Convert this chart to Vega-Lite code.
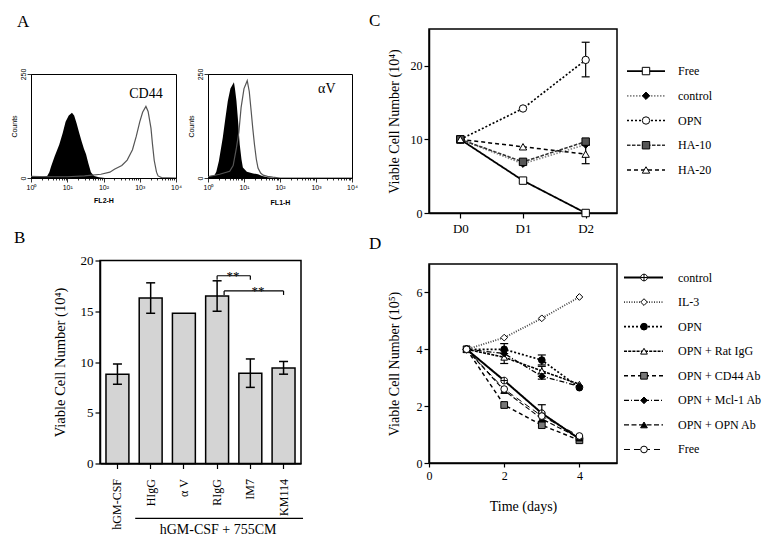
{
  "$schema": "https://vega.github.io/schema/vega-lite/v6.json",
  "autosize": {"type": "pad"},
  "padding": {"left": 9, "top": 11, "right": 0, "bottom": 0},
  "background": "white",
  "config": {
    "font": "Liberation Serif",
    "view": {"stroke": null},
    "axis": {"grid": false, "domainColor": "black", "tickColor": "black", "labelColor": "black", "titleColor": "black", "labelFont": "Liberation Serif", "titleFont": "Liberation Serif", "titleFontWeight": "normal", "labelFontSize": 12, "titleFontSize": 14, "tickSize": 5, "domainWidth": 1.5, "tickWidth": 1.2},
    "title": {"font": "Liberation Serif", "fontSize": 17, "fontWeight": "normal", "anchor": "start", "frame": "group", "color": "black"},
    "tick": {"opacity": 1},
    "text": {"color": "black"}
  },
  "datasets": {
    "hist": [
      {"panel": "CD44", "kind": "isotype", "fl": 1, "count": 3},
      {"panel": "CD44", "kind": "isotype", "fl": 2, "count": 3},
      {"panel": "CD44", "kind": "isotype", "fl": 2.8, "count": 5},
      {"panel": "CD44", "kind": "isotype", "fl": 3.2, "count": 14},
      {"panel": "CD44", "kind": "isotype", "fl": 3.6, "count": 28},
      {"panel": "CD44", "kind": "isotype", "fl": 4.5, "count": 52},
      {"panel": "CD44", "kind": "isotype", "fl": 6, "count": 80},
      {"panel": "CD44", "kind": "isotype", "fl": 7.5, "count": 108},
      {"panel": "CD44", "kind": "isotype", "fl": 9, "count": 135},
      {"panel": "CD44", "kind": "isotype", "fl": 11, "count": 150},
      {"panel": "CD44", "kind": "isotype", "fl": 13.5, "count": 157},
      {"panel": "CD44", "kind": "isotype", "fl": 15.5, "count": 150},
      {"panel": "CD44", "kind": "isotype", "fl": 18, "count": 132},
      {"panel": "CD44", "kind": "isotype", "fl": 21.4, "count": 108},
      {"panel": "CD44", "kind": "isotype", "fl": 25, "count": 88},
      {"panel": "CD44", "kind": "isotype", "fl": 29, "count": 70},
      {"panel": "CD44", "kind": "isotype", "fl": 33, "count": 57},
      {"panel": "CD44", "kind": "isotype", "fl": 38, "count": 36},
      {"panel": "CD44", "kind": "isotype", "fl": 45, "count": 14},
      {"panel": "CD44", "kind": "isotype", "fl": 55, "count": 5},
      {"panel": "CD44", "kind": "isotype", "fl": 75, "count": 2},
      {"panel": "CD44", "kind": "isotype", "fl": 110, "count": 0},
      {"panel": "CD44", "kind": "stained", "fl": 1, "count": 4},
      {"panel": "CD44", "kind": "stained", "fl": 3, "count": 3},
      {"panel": "CD44", "kind": "stained", "fl": 10, "count": 3},
      {"panel": "CD44", "kind": "stained", "fl": 30, "count": 5},
      {"panel": "CD44", "kind": "stained", "fl": 85, "count": 9},
      {"panel": "CD44", "kind": "stained", "fl": 150, "count": 14},
      {"panel": "CD44", "kind": "stained", "fl": 200, "count": 21},
      {"panel": "CD44", "kind": "stained", "fl": 320, "count": 30},
      {"panel": "CD44", "kind": "stained", "fl": 450, "count": 43},
      {"panel": "CD44", "kind": "stained", "fl": 630, "count": 68},
      {"panel": "CD44", "kind": "stained", "fl": 800, "count": 100},
      {"panel": "CD44", "kind": "stained", "fl": 1000, "count": 135},
      {"panel": "CD44", "kind": "stained", "fl": 1200, "count": 158},
      {"panel": "CD44", "kind": "stained", "fl": 1480, "count": 172},
      {"panel": "CD44", "kind": "stained", "fl": 1700, "count": 160},
      {"panel": "CD44", "kind": "stained", "fl": 2040, "count": 120},
      {"panel": "CD44", "kind": "stained", "fl": 2240, "count": 82},
      {"panel": "CD44", "kind": "stained", "fl": 2510, "count": 42},
      {"panel": "CD44", "kind": "stained", "fl": 2900, "count": 14},
      {"panel": "CD44", "kind": "stained", "fl": 3200, "count": 5},
      {"panel": "CD44", "kind": "stained", "fl": 4000, "count": 1},
      {"panel": "CD44", "kind": "stained", "fl": 10000, "count": 0},
      {"panel": "aV", "kind": "isotype", "fl": 1, "count": 5},
      {"panel": "aV", "kind": "isotype", "fl": 1.5, "count": 6},
      {"panel": "aV", "kind": "isotype", "fl": 1.7, "count": 15},
      {"panel": "aV", "kind": "isotype", "fl": 2, "count": 40},
      {"panel": "aV", "kind": "isotype", "fl": 2.57, "count": 97},
      {"panel": "aV", "kind": "isotype", "fl": 3, "count": 140},
      {"panel": "aV", "kind": "isotype", "fl": 3.55, "count": 185},
      {"panel": "aV", "kind": "isotype", "fl": 4.2, "count": 215},
      {"panel": "aV", "kind": "isotype", "fl": 5.25, "count": 230},
      {"panel": "aV", "kind": "isotype", "fl": 5.6, "count": 215},
      {"panel": "aV", "kind": "isotype", "fl": 6.17, "count": 185},
      {"panel": "aV", "kind": "isotype", "fl": 6.8, "count": 140},
      {"panel": "aV", "kind": "isotype", "fl": 7.6, "count": 81},
      {"panel": "aV", "kind": "isotype", "fl": 8.5, "count": 45},
      {"panel": "aV", "kind": "isotype", "fl": 9.3, "count": 25},
      {"panel": "aV", "kind": "isotype", "fl": 12, "count": 15},
      {"panel": "aV", "kind": "isotype", "fl": 18, "count": 11},
      {"panel": "aV", "kind": "isotype", "fl": 24.5, "count": 9},
      {"panel": "aV", "kind": "isotype", "fl": 32, "count": 5},
      {"panel": "aV", "kind": "isotype", "fl": 45, "count": 2},
      {"panel": "aV", "kind": "isotype", "fl": 70, "count": 0},
      {"panel": "aV", "kind": "stained", "fl": 1, "count": 3},
      {"panel": "aV", "kind": "stained", "fl": 2.1, "count": 9},
      {"panel": "aV", "kind": "stained", "fl": 4, "count": 16},
      {"panel": "aV", "kind": "stained", "fl": 5, "count": 30},
      {"panel": "aV", "kind": "stained", "fl": 6.17, "count": 73},
      {"panel": "aV", "kind": "stained", "fl": 7.2, "count": 110},
      {"panel": "aV", "kind": "stained", "fl": 8.3, "count": 169},
      {"panel": "aV", "kind": "stained", "fl": 10, "count": 215},
      {"panel": "aV", "kind": "stained", "fl": 12.3, "count": 234},
      {"panel": "aV", "kind": "stained", "fl": 14, "count": 208},
      {"panel": "aV", "kind": "stained", "fl": 15.8, "count": 161},
      {"panel": "aV", "kind": "stained", "fl": 17.5, "count": 120},
      {"panel": "aV", "kind": "stained", "fl": 19.5, "count": 81},
      {"panel": "aV", "kind": "stained", "fl": 22, "count": 45},
      {"panel": "aV", "kind": "stained", "fl": 24.5, "count": 24},
      {"panel": "aV", "kind": "stained", "fl": 29, "count": 12},
      {"panel": "aV", "kind": "stained", "fl": 34, "count": 7},
      {"panel": "aV", "kind": "stained", "fl": 45, "count": 4},
      {"panel": "aV", "kind": "stained", "fl": 63, "count": 2},
      {"panel": "aV", "kind": "stained", "fl": 100, "count": 0},
      {"panel": "aV", "kind": "stained", "fl": 10000, "count": 0}
    ],
    "bars": [
      {"group": "hGM-CSF", "mean": 8.8, "lo": 7.8, "hi": 9.8},
      {"group": "HIgG", "mean": 16.3, "lo": 14.8, "hi": 17.8},
      {"group": "α V", "mean": 14.8, "lo": null, "hi": null},
      {"group": "RIgG", "mean": 16.5, "lo": 15.0, "hi": 18.0},
      {"group": "IM7", "mean": 8.9, "lo": 7.5, "hi": 10.3},
      {"group": "KM114", "mean": 9.4, "lo": 8.8, "hi": 10.05}
    ],
    "brackets": [
      {"from": "RIgG", "to": "IM7", "y": 18.5, "label": "**"},
      {"from": "RIgG", "to": "KM114", "y": 17.0, "label": "**"}
    ],
    "cData": [
      {"series": "Free", "day": "D0", "v": 10}, {"series": "Free", "day": "D1", "v": 4.4}, {"series": "Free", "day": "D2", "v": 0},
      {"series": "control", "day": "D0", "v": 10}, {"series": "control", "day": "D1", "v": 6.7}, {"series": "control", "day": "D2", "v": 9.3},
      {"series": "OPN", "day": "D0", "v": 10}, {"series": "OPN", "day": "D1", "v": 14.2}, {"series": "OPN", "day": "D2", "v": 20.8},
      {"series": "HA-10", "day": "D0", "v": 10}, {"series": "HA-10", "day": "D1", "v": 6.95}, {"series": "HA-10", "day": "D2", "v": 9.7},
      {"series": "HA-20", "day": "D0", "v": 10}, {"series": "HA-20", "day": "D1", "v": 9.0}, {"series": "HA-20", "day": "D2", "v": 8.0}
    ],
    "cErr": [
      {"series": "OPN", "day": "D2", "lo": 18.5, "hi": 23.2},
      {"series": "HA-20", "day": "D2", "lo": 6.7, "hi": 9.2}
    ],
    "cLegend": [
      {"series": "Free"}, {"series": "control"}, {"series": "OPN"}, {"series": "HA-10"}, {"series": "HA-20"}
    ],
    "dData": [
      {"series": "control", "day": 1, "v": 4}, {"series": "control", "day": 2, "v": 2.9}, {"series": "control", "day": 3, "v": 1.75}, {"series": "control", "day": 4, "v": 0.85},
      {"series": "IL-3", "day": 1, "v": 4}, {"series": "IL-3", "day": 2, "v": 4.41}, {"series": "IL-3", "day": 3, "v": 5.09}, {"series": "IL-3", "day": 4, "v": 5.84},
      {"series": "OPN", "day": 1, "v": 4}, {"series": "OPN", "day": 2, "v": 4.0}, {"series": "OPN", "day": 3, "v": 3.62}, {"series": "OPN", "day": 4, "v": 2.65},
      {"series": "OPN + Rat IgG", "day": 1, "v": 4}, {"series": "OPN + Rat IgG", "day": 2, "v": 3.72}, {"series": "OPN + Rat IgG", "day": 3, "v": 3.24}, {"series": "OPN + Rat IgG", "day": 4, "v": 2.77},
      {"series": "OPN + CD44 Ab", "day": 1, "v": 4}, {"series": "OPN + CD44 Ab", "day": 2, "v": 2.04}, {"series": "OPN + CD44 Ab", "day": 3, "v": 1.33}, {"series": "OPN + CD44 Ab", "day": 4, "v": 0.8},
      {"series": "OPN + Mcl-1 Ab", "day": 1, "v": 4}, {"series": "OPN + Mcl-1 Ab", "day": 2, "v": 3.85}, {"series": "OPN + Mcl-1 Ab", "day": 3, "v": 3.05}, {"series": "OPN + Mcl-1 Ab", "day": 4, "v": 2.7},
      {"series": "OPN + OPN Ab", "day": 1, "v": 4}, {"series": "OPN + OPN Ab", "day": 2, "v": 2.55}, {"series": "OPN + OPN Ab", "day": 3, "v": 1.55}, {"series": "OPN + OPN Ab", "day": 4, "v": 0.88},
      {"series": "Free", "day": 1, "v": 4}, {"series": "Free", "day": 2, "v": 2.6}, {"series": "Free", "day": 3, "v": 1.65}, {"series": "Free", "day": 4, "v": 0.95}
    ],
    "dErr": [
      {"series": "control", "day": 3, "lo": 1.45, "hi": 2.05},
      {"series": "OPN", "day": 2, "lo": 3.85, "hi": 4.2},
      {"series": "OPN", "day": 3, "lo": 3.45, "hi": 3.8},
      {"series": "OPN + Rat IgG", "day": 2, "lo": 3.5, "hi": 3.95},
      {"series": "OPN + Rat IgG", "day": 3, "lo": 3.05, "hi": 3.4},
      {"series": "OPN + Mcl-1 Ab", "day": 3, "lo": 2.95, "hi": 3.15}
    ],
    "dLegend": [
      {"series": "control"}, {"series": "IL-3"}, {"series": "OPN"}, {"series": "OPN + Rat IgG"}, {"series": "OPN + CD44 Ab"}, {"series": "OPN + Mcl-1 Ab"}, {"series": "OPN + OPN Ab"}, {"series": "Free"}
    ]
  },
  "resolve": {"scale": {"shape": "independent", "fill": "independent", "stroke": "independent", "strokeDash": "independent", "strokeWidth": "independent"}},
  "hconcat": [
    {
      "vconcat": [
        {"width": 1, "height": 44, "view": {"fill": "white"}, "data": {"values": []}, "mark": "point",
         "title": {"text": "A", "dx": -14, "offset": -19, "baseline": "bottom"}},
        {
          "vconcat": [
            {
              "hconcat": [
                {
                  "width": 145, "height": 104,
                  "view": {"stroke": "black", "strokeWidth": 1},
                  "layer": [
                    {
                      "data": {"name": "hist"},
                      "transform": [{"filter": "datum.panel === 'CD44' && datum.kind === 'isotype'"}],
                      "mark": {"type": "area", "color": "black", "clip": true},
                      "encoding": {
                        "x": {"field": "fl", "type": "quantitative", "scale": {"type": "log", "domain": [1, 10000]},
                          "axis": {"values": [1,2,3,4,5,6,7,8,9,10,20,30,40,50,60,70,80,90,100,200,300,400,500,600,700,800,900,1000,2000,3000,4000,5000,6000,7000,8000,9000,10000],
                            "labelExpr": "abs(log(datum.value)/LN10 - round(log(datum.value)/LN10)) < 0.001 ? '10' + ['⁰','¹','²','³','⁴'][round(log(datum.value)/LN10)] : ''",
                            "labelFont": "Liberation Sans", "labelFontSize": 7, "labelOverlap": false, "labelFlush": false, "labelPadding": 1,
                            "tickSize": {"condition": {"test": "abs(log(datum.value)/LN10 - round(log(datum.value)/LN10)) < 0.001", "value": 4}, "value": 2},
                            "tickWidth": 0.8, "domainWidth": 1,
                            "title": "FL2-H", "titleFont": "Liberation Sans", "titleFontSize": 7, "titleFontWeight": "bold", "titlePadding": 6.5}},
                        "y": {"field": "count", "type": "quantitative", "scale": {"domain": [0, 250], "nice": false},
                          "axis": {"values": [0,10,20,30,40,50,60,70,80,90,100,110,120,130,140,150,160,170,180,190,200,210,220,230,240,250],
                            "labelExpr": "datum.value % 50 === 0 ? datum.label : ''",
                            "labelAngle": -90, "labelAlign": "center", "labelBaseline": "bottom",
                            "labelFont": "Liberation Sans", "labelFontSize": 7, "labelOverlap": false, "labelFlush": false, "labelPadding": 1,
                            "tickSize": {"condition": {"test": "datum.value % 50 === 0", "value": 4}, "value": 2},
                            "tickWidth": 0.8, "domainWidth": 1,
                            "title": "Counts", "titleFont": "Liberation Sans", "titleFontSize": 7, "titlePadding": 2}}
                      }
                    },
                    {
                      "data": {"name": "hist"},
                      "transform": [{"filter": "datum.panel === 'CD44' && datum.kind === 'stained'"}],
                      "mark": {"type": "line", "color": "#555", "strokeWidth": 1.2, "clip": true},
                      "encoding": {"x": {"field": "fl", "type": "quantitative"}, "y": {"field": "count", "type": "quantitative"}}
                    },
                    {
                      "data": {"values": [{"label": "CD44"}]},
                      "mark": {"type": "text", "font": "Liberation Serif", "fontSize": 14, "align": "center", "baseline": "middle", "color": "black"},
                      "encoding": {"x": {"datum": 1480}, "y": {"datum": 202}, "text": {"field": "label"}}
                    }
                  ]
                },
                {
                  "width": 144, "height": 104,
                  "view": {"stroke": "black", "strokeWidth": 1},
                  "layer": [
                    {
                      "data": {"name": "hist"},
                      "transform": [{"filter": "datum.panel === 'aV' && datum.kind === 'isotype'"}],
                      "mark": {"type": "area", "color": "black", "clip": true},
                      "encoding": {
                        "x": {"field": "fl", "type": "quantitative", "scale": {"type": "log", "domain": [1, 10000]},
                          "axis": {"values": [1,2,3,4,5,6,7,8,9,10,20,30,40,50,60,70,80,90,100,200,300,400,500,600,700,800,900,1000,2000,3000,4000,5000,6000,7000,8000,9000,10000],
                            "labelExpr": "abs(log(datum.value)/LN10 - round(log(datum.value)/LN10)) < 0.001 ? '10' + ['⁰','¹','²','³','⁴'][round(log(datum.value)/LN10)] : ''",
                            "labelFont": "Liberation Sans", "labelFontSize": 7, "labelOverlap": false, "labelFlush": false, "labelPadding": 1,
                            "tickSize": {"condition": {"test": "abs(log(datum.value)/LN10 - round(log(datum.value)/LN10)) < 0.001", "value": 4}, "value": 2},
                            "tickWidth": 0.8, "domainWidth": 1,
                            "title": "FL1-H", "titleFont": "Liberation Sans", "titleFontSize": 7, "titleFontWeight": "bold", "titlePadding": 8}},
                        "y": {"field": "count", "type": "quantitative", "scale": {"domain": [0, 250], "nice": false},
                          "axis": {"values": [0,10,20,30,40,50,60,70,80,90,100,110,120,130,140,150,160,170,180,190,200,210,220,230,240,250],
                            "labelExpr": "datum.value % 50 === 0 ? datum.label : ''",
                            "labelAngle": -90, "labelAlign": "center", "labelBaseline": "bottom",
                            "labelFont": "Liberation Sans", "labelFontSize": 7, "labelOverlap": false, "labelFlush": false, "labelPadding": 1,
                            "tickSize": {"condition": {"test": "datum.value % 50 === 0", "value": 4}, "value": 2},
                            "tickWidth": 0.8, "domainWidth": 1,
                            "title": "Counts", "titleFont": "Liberation Sans", "titleFontSize": 7, "titlePadding": 2}}
                      }
                    },
                    {
                      "data": {"name": "hist"},
                      "transform": [{"filter": "datum.panel === 'aV' && datum.kind === 'stained'"}],
                      "mark": {"type": "line", "color": "#555", "strokeWidth": 1.2, "clip": true},
                      "encoding": {"x": {"field": "fl", "type": "quantitative"}, "y": {"field": "count", "type": "quantitative"}}
                    },
                    {
                      "data": {"values": [{"label": "αV"}]},
                      "mark": {"type": "text", "font": "Liberation Serif", "fontSize": 14, "align": "center", "baseline": "middle", "color": "black"},
                      "encoding": {"x": {"datum": 2000}, "y": {"datum": 215}, "text": {"field": "label"}}
                    }
                  ]
                }
              ],
              "spacing": 32, "bounds": "flush"
            },
            {
              "hconcat": [
                {"width": 69, "height": 1, "view": {"fill": "white"}, "data": {"values": []}, "mark": "point"},
                {
                  "width": 201, "height": 203,
                  "view": {"stroke": "black", "strokeWidth": 1.5},
                  "title": {"text": "B", "dx": -86, "offset": -9, "baseline": "bottom"},
                  "layer": [
                    {
                      "data": {"name": "bars"},
                      "mark": {"type": "bar", "fill": "#d4d4d4", "stroke": "black", "strokeWidth": 1.5},
                      "encoding": {
                        "x": {"field": "group", "type": "nominal", "sort": null,
                          "scale": {"domain": ["hGM-CSF", "HIgG", "α V", "RIgG", "IM7", "KM114"], "paddingInner": 0.31, "paddingOuter": 0.18},
                          "axis": {"title": null, "labelAngle": -90, "labelFontSize": 12, "labelPadding": 10, "tickSize": 5}},
                        "y": {"field": "mean", "type": "quantitative", "scale": {"domain": [0, 20], "nice": false},
                          "axis": {"values": [0, 5, 10, 15, 20], "title": "Viable Cell Number (10⁴)", "titleFontSize": 14.5, "labelFontSize": 13, "titlePadding": 13, "labelPadding": 2}}
                      }
                    },
                    {
                      "data": {"name": "bars"},
                      "mark": {"type": "rule", "strokeWidth": 1.5, "color": "black"},
                      "encoding": {"x": {"field": "group", "type": "nominal"}, "y": {"field": "lo", "type": "quantitative"}, "y2": {"field": "hi"}}
                    },
                    {
                      "data": {"name": "bars"},
                      "mark": {"type": "tick", "orient": "horizontal", "size": 9, "thickness": 1.5, "color": "black"},
                      "encoding": {"x": {"field": "group", "type": "nominal"}, "y": {"field": "hi", "type": "quantitative"}}
                    },
                    {
                      "data": {"name": "bars"},
                      "mark": {"type": "tick", "orient": "horizontal", "size": 9, "thickness": 1.5, "color": "black"},
                      "encoding": {"x": {"field": "group", "type": "nominal"}, "y": {"field": "lo", "type": "quantitative"}}
                    },
                    {
                      "data": {"name": "brackets"},
                      "transform": [{"filter": "datum.to === 'IM7'"}],
                      "mark": {"type": "rule", "strokeWidth": 1.2, "color": "black"},
                      "encoding": {"x": {"field": "from", "type": "nominal", "bandPosition": 0.5}, "x2": {"field": "to", "bandPosition": 0.5}, "y": {"field": "y", "type": "quantitative"}}
                    },
                    {
                      "data": {"name": "brackets"},
                      "transform": [{"filter": "datum.to === 'KM114'"}],
                      "mark": {"type": "rule", "strokeWidth": 1.2, "color": "black", "xOffset": 7},
                      "encoding": {"x": {"field": "from", "type": "nominal", "bandPosition": 0.5}, "x2": {"field": "to", "bandPosition": 0.5}, "y": {"field": "y", "type": "quantitative"}}
                    },
                    {
                      "data": {"name": "brackets"},
                      "transform": [{"filter": "datum.to === 'IM7'"}, {"fold": ["from", "to"], "as": ["end", "cat"]}],
                      "mark": {"type": "tick", "orient": "vertical", "size": 4, "thickness": 1.2, "yOffset": 2, "color": "black"},
                      "encoding": {"x": {"field": "cat", "type": "nominal"}, "y": {"field": "y", "type": "quantitative"}}
                    },
                    {
                      "data": {"name": "brackets"},
                      "transform": [{"filter": "datum.to === 'KM114'"}],
                      "mark": {"type": "tick", "orient": "vertical", "size": 4, "thickness": 1.2, "yOffset": 2, "xOffset": 7, "color": "black"},
                      "encoding": {"x": {"field": "from", "type": "nominal"}, "y": {"field": "y", "type": "quantitative"}}
                    },
                    {
                      "data": {"name": "brackets"},
                      "transform": [{"filter": "datum.to === 'KM114'"}],
                      "mark": {"type": "tick", "orient": "vertical", "size": 4, "thickness": 1.2, "yOffset": 2, "color": "black"},
                      "encoding": {"x": {"field": "to", "type": "nominal"}, "y": {"field": "y", "type": "quantitative"}}
                    },
                    {
                      "data": {"name": "brackets"},
                      "transform": [{"filter": "datum.to === 'IM7'"}],
                      "mark": {"type": "text", "fontSize": 13, "fontWeight": "normal", "baseline": "alphabetic", "dy": 4, "xOffset": 16, "fill": "#000000", "opacity": 1},
                      "encoding": {"x": {"field": "from", "type": "nominal"}, "y": {"field": "y", "type": "quantitative"}, "text": {"field": "label"}}
                    },
                    {
                      "data": {"name": "brackets"},
                      "transform": [{"filter": "datum.to === 'KM114'"}],
                      "mark": {"type": "text", "fontSize": 13, "fontWeight": "normal", "baseline": "alphabetic", "dy": 4, "xOffset": 41, "fill": "#000000", "opacity": 1},
                      "encoding": {"x": {"field": "from", "type": "nominal"}, "y": {"field": "y", "type": "quantitative"}, "text": {"field": "label"}}
                    },
                    {
                      "data": {"values": [{"label": "hGM-CSF + 755CM"}]},
                      "mark": {"type": "rule", "strokeWidth": 1.2, "color": "black", "xOffset": -4, "x2Offset": 8},
                      "encoding": {"x": {"datum": "HIgG", "bandPosition": 0}, "x2": {"datum": "KM114", "bandPosition": 1}, "y": {"datum": -5.4}}
                    },
                    {
                      "data": {"values": [{"label": "hGM-CSF + 755CM"}]},
                      "mark": {"type": "text", "fontSize": 14, "align": "center", "baseline": "middle", "xOffset": 1, "color": "black"},
                      "encoding": {"x": {"datum": "RIgG", "bandPosition": 0.5}, "y": {"datum": -6.6}, "text": {"field": "label"}}
                    }
                  ]
                }
              ],
              "spacing": 0, "bounds": "flush"
            }
          ],
          "spacing": 21.5
        }
      ],
      "spacing": -6
    },
    {
      "vconcat": [
        {
          "hconcat": [
            {
              "width": 188, "height": 184,
              "view": {"stroke": "black", "strokeWidth": 1.5},
              "title": {"text": "C", "dx": -60, "offset": -18, "baseline": "bottom"},
              "layer": [
                {
                  "data": {"name": "cData"},
                  "mark": {"type": "line"},
                  "encoding": {
                    "x": {"field": "day", "type": "ordinal", "scale": {"type": "point", "padding": 0.5}, "axis": {"title": null, "labelAngle": 0, "labelFontSize": 13, "labelPadding": 4, "tickSize": 5}},
                    "y": {"field": "v", "type": "quantitative", "scale": {"domain": [0, 25], "nice": false}, "axis": {"values": [0, 5, 10, 15, 20, 25], "title": "Viable Cell Number (10⁴)", "labelFontSize": 12, "labelPadding": 2, "titlePadding": 9}},
                    "strokeDash": {"field": "series", "type": "nominal", "scale": {"domain": ["Free", "control", "OPN", "HA-10", "HA-20"], "range": [[1, 0], [1.5, 1.5], [2, 2], [3.5, 1.5], [4, 3]]}, "legend": null},
                    "stroke": {"field": "series", "type": "nominal", "scale": {"domain": ["Free", "control", "OPN", "HA-10", "HA-20"], "range": ["black", "#888", "black", "#333", "black"]}, "legend": null},
                    "strokeWidth": {"field": "series", "type": "nominal", "scale": {"domain": ["Free", "control", "OPN", "HA-10", "HA-20"], "range": [1.8, 1.5, 1.2, 1.4, 1.2]}, "legend": null}
                  }
                },
                {
                  "data": {"name": "cErr"},
                  "mark": {"type": "rule", "strokeWidth": 1.2, "color": "black"},
                  "encoding": {"x": {"field": "day", "type": "ordinal"}, "y": {"field": "lo", "type": "quantitative"}, "y2": {"field": "hi"}}
                },
                {
                  "data": {"name": "cErr"},
                  "mark": {"type": "tick", "orient": "horizontal", "size": 8, "thickness": 1.2, "color": "black"},
                  "encoding": {"x": {"field": "day", "type": "ordinal"}, "y": {"field": "lo", "type": "quantitative"}}
                },
                {
                  "data": {"name": "cErr"},
                  "mark": {"type": "tick", "orient": "horizontal", "size": 8, "thickness": 1.2, "color": "black"},
                  "encoding": {"x": {"field": "day", "type": "ordinal"}, "y": {"field": "hi", "type": "quantitative"}}
                },
                {
                  "data": {"name": "cData"},
                  "mark": {"type": "point", "filled": true, "stroke": "black", "strokeWidth": 1, "size": 55, "opacity": 1},
                  "encoding": {
                    "x": {"field": "day", "type": "ordinal"},
                    "y": {"field": "v", "type": "quantitative"},
                    "shape": {"field": "series", "type": "nominal", "scale": {"domain": ["Free", "control", "OPN", "HA-10", "HA-20"], "range": ["square", "diamond", "circle", "square", "triangle-up"]}, "legend": null},
                    "fill": {"field": "series", "type": "nominal", "scale": {"domain": ["Free", "control", "OPN", "HA-10", "HA-20"], "range": ["white", "black", "white", "#555", "white"]}, "legend": null}
                  }
                }
              ]
            },
            {
              "width": 145, "height": 184,
              "data": {"name": "cLegend"},
              "transform": [{"window": [{"op": "row_number", "as": "rank"}]}],
              "encoding": {"y": {"field": "rank", "type": "quantitative", "scale": {"domain": [-0.7, 6.74], "reverse": true, "nice": false, "zero": false}, "axis": null}},
              "layer": [
                {
                  "mark": {"type": "rule"},
                  "encoding": {
                    "x": {"datum": 7, "type": "quantitative", "scale": {"domain": [0, 145], "nice": false, "zero": false}, "axis": null},
                    "x2": {"datum": 45},
                    "strokeDash": {"field": "series", "type": "nominal", "scale": {"domain": ["Free", "control", "OPN", "HA-10", "HA-20"], "range": [[1, 0], [1.5, 1.5], [2, 2], [3.5, 1.5], [4, 3]]}, "legend": null},
                    "stroke": {"field": "series", "type": "nominal", "scale": {"domain": ["Free", "control", "OPN", "HA-10", "HA-20"], "range": ["black", "#888", "black", "#333", "black"]}, "legend": null},
                    "strokeWidth": {"field": "series", "type": "nominal", "scale": {"domain": ["Free", "control", "OPN", "HA-10", "HA-20"], "range": [1.8, 1.5, 1.2, 1.4, 1.2]}, "legend": null}
                  }
                },
                {
                  "mark": {"type": "point", "filled": true, "stroke": "black", "strokeWidth": 1, "size": 55, "opacity": 1},
                  "encoding": {
                    "x": {"datum": 26, "type": "quantitative"},
                    "shape": {"field": "series", "type": "nominal", "scale": {"domain": ["Free", "control", "OPN", "HA-10", "HA-20"], "range": ["square", "diamond", "circle", "square", "triangle-up"]}, "legend": null},
                    "fill": {"field": "series", "type": "nominal", "scale": {"domain": ["Free", "control", "OPN", "HA-10", "HA-20"], "range": ["white", "black", "white", "#555", "white"]}, "legend": null}
                  }
                },
                {
                  "mark": {"type": "text", "align": "left", "baseline": "middle", "fontSize": 12, "color": "black"},
                  "encoding": {"x": {"datum": 58, "type": "quantitative"}, "text": {"field": "series"}}
                }
              ]
            }
          ],
          "spacing": 3, "bounds": "flush"
        },
        {
          "hconcat": [
            {
              "width": 188, "height": 199,
              "view": {"stroke": "black", "strokeWidth": 1.5},
              "title": {"text": "D", "dx": -60, "offset": -5.5, "baseline": "bottom"},
              "layer": [
                {
                  "data": {"name": "dData"},
                  "mark": {"type": "line"},
                  "encoding": {
                    "x": {"field": "day", "type": "quantitative", "scale": {"domain": [0, 5], "nice": false}, "axis": {"values": [0, 1, 2, 3, 4, 5], "title": "Time (days)", "titleFontSize": 14, "titlePadding": 18, "labelFontSize": 12, "labelPadding": 3, "tickSize": 4, "labelFlush": false}},
                    "y": {"field": "v", "type": "quantitative", "scale": {"domain": [0, 7], "nice": false}, "axis": {"values": [0, 1, 2, 3, 4, 5, 6, 7], "title": "Viable Cell Number (10⁵)", "labelFontSize": 12, "labelPadding": 2, "titlePadding": 15, "labelFlush": false}},
                    "strokeDash": {"field": "series", "type": "nominal", "scale": {"domain": ["control", "IL-3", "OPN", "OPN + Rat IgG", "OPN + CD44 Ab", "OPN + Mcl-1 Ab", "OPN + OPN Ab", "Free"], "range": [[1, 0], [1, 1.5], [2, 2], [3, 1.2], [4, 3], [5, 2, 1, 2], [5, 2.5], [6, 4]]}, "legend": null},
                    "stroke": {"field": "series", "type": "nominal", "scale": {"domain": ["control", "IL-3", "OPN", "OPN + Rat IgG", "OPN + CD44 Ab", "OPN + Mcl-1 Ab", "OPN + OPN Ab", "Free"], "range": ["black", "#444", "black", "black", "black", "black", "black", "black"]}, "legend": null},
                    "strokeWidth": {"field": "series", "type": "nominal", "scale": {"domain": ["control", "IL-3", "OPN", "OPN + Rat IgG", "OPN + CD44 Ab", "OPN + Mcl-1 Ab", "OPN + OPN Ab", "Free"], "range": [2, 1, 1.2, 1.2, 1.2, 1.2, 1.2, 1.2]}, "legend": null}
                  }
                },
                {
                  "data": {"name": "dErr"},
                  "mark": {"type": "rule", "strokeWidth": 1.2, "color": "black"},
                  "encoding": {"x": {"field": "day", "type": "quantitative"}, "y": {"field": "lo", "type": "quantitative"}, "y2": {"field": "hi"}}
                },
                {
                  "data": {"name": "dErr"},
                  "mark": {"type": "tick", "orient": "horizontal", "size": 8, "thickness": 1.2, "color": "black"},
                  "encoding": {"x": {"field": "day", "type": "quantitative"}, "y": {"field": "lo", "type": "quantitative"}}
                },
                {
                  "data": {"name": "dErr"},
                  "mark": {"type": "tick", "orient": "horizontal", "size": 8, "thickness": 1.2, "color": "black"},
                  "encoding": {"x": {"field": "day", "type": "quantitative"}, "y": {"field": "hi", "type": "quantitative"}}
                },
                {
                  "data": {"name": "dData"},
                  "mark": {"type": "point", "filled": true, "stroke": "black", "strokeWidth": 1, "size": 45, "opacity": 1},
                  "encoding": {
                    "x": {"field": "day", "type": "quantitative"},
                    "y": {"field": "v", "type": "quantitative"},
                    "shape": {"field": "series", "type": "nominal", "scale": {"domain": ["control", "IL-3", "OPN", "OPN + Rat IgG", "OPN + CD44 Ab", "OPN + Mcl-1 Ab", "OPN + OPN Ab", "Free"], "range": ["M-1,0A1,1 0 1,1 1,0A1,1 0 1,1 -1,0ZM-1,0L1,0M0,-1L0,1", "diamond", "circle", "triangle-up", "square", "diamond", "triangle-up", "circle"]}, "legend": null},
                    "fill": {"field": "series", "type": "nominal", "scale": {"domain": ["control", "IL-3", "OPN", "OPN + Rat IgG", "OPN + CD44 Ab", "OPN + Mcl-1 Ab", "OPN + OPN Ab", "Free"], "range": ["white", "white", "black", "white", "#777", "black", "black", "white"]}, "legend": null}
                  }
                }
              ]
            },
            {
              "width": 145, "height": 199,
              "data": {"name": "dLegend"},
              "encoding": {"y": {"field": "series", "type": "nominal", "sort": null, "scale": {"type": "point", "padding": 0.55}, "axis": null}},
              "layer": [
                {
                  "mark": {"type": "rule"},
                  "encoding": {
                    "x": {"datum": 4, "type": "quantitative", "scale": {"domain": [0, 145], "nice": false, "zero": false}, "axis": null},
                    "x2": {"datum": 43},
                    "strokeDash": {"field": "series", "type": "nominal", "scale": {"domain": ["control", "IL-3", "OPN", "OPN + Rat IgG", "OPN + CD44 Ab", "OPN + Mcl-1 Ab", "OPN + OPN Ab", "Free"], "range": [[1, 0], [1, 1.5], [2, 2], [3, 1.2], [4, 3], [5, 2, 1, 2], [5, 2.5], [6, 4]]}, "legend": null},
                    "stroke": {"field": "series", "type": "nominal", "scale": {"domain": ["control", "IL-3", "OPN", "OPN + Rat IgG", "OPN + CD44 Ab", "OPN + Mcl-1 Ab", "OPN + OPN Ab", "Free"], "range": ["black", "#444", "black", "black", "black", "black", "black", "black"]}, "legend": null},
                    "strokeWidth": {"field": "series", "type": "nominal", "scale": {"domain": ["control", "IL-3", "OPN", "OPN + Rat IgG", "OPN + CD44 Ab", "OPN + Mcl-1 Ab", "OPN + OPN Ab", "Free"], "range": [2, 1, 1.2, 1.2, 1.2, 1.2, 1.2, 1.2]}, "legend": null}
                  }
                },
                {
                  "mark": {"type": "point", "filled": true, "stroke": "black", "strokeWidth": 1, "size": 45, "opacity": 1},
                  "encoding": {
                    "x": {"datum": 24, "type": "quantitative"},
                    "shape": {"field": "series", "type": "nominal", "scale": {"domain": ["control", "IL-3", "OPN", "OPN + Rat IgG", "OPN + CD44 Ab", "OPN + Mcl-1 Ab", "OPN + OPN Ab", "Free"], "range": ["M-1,0A1,1 0 1,1 1,0A1,1 0 1,1 -1,0ZM-1,0L1,0M0,-1L0,1", "diamond", "circle", "triangle-up", "square", "diamond", "triangle-up", "circle"]}, "legend": null},
                    "fill": {"field": "series", "type": "nominal", "scale": {"domain": ["control", "IL-3", "OPN", "OPN + Rat IgG", "OPN + CD44 Ab", "OPN + Mcl-1 Ab", "OPN + OPN Ab", "Free"], "range": ["white", "white", "black", "white", "#777", "black", "black", "white"]}, "legend": null}
                  }
                },
                {
                  "mark": {"type": "text", "align": "left", "baseline": "middle", "fontSize": 12, "color": "black"},
                  "encoding": {"x": {"datum": 58, "type": "quantitative"}, "text": {"field": "series"}}
                }
              ]
            }
          ],
          "spacing": 3, "bounds": "flush"
        }
      ],
      "resolve": {"scale": {"shape": "independent", "fill": "independent", "stroke": "independent", "strokeDash": "independent", "strokeWidth": "independent"}},
      "spacing": -3
    }
  ],
  "spacing": 10
}
